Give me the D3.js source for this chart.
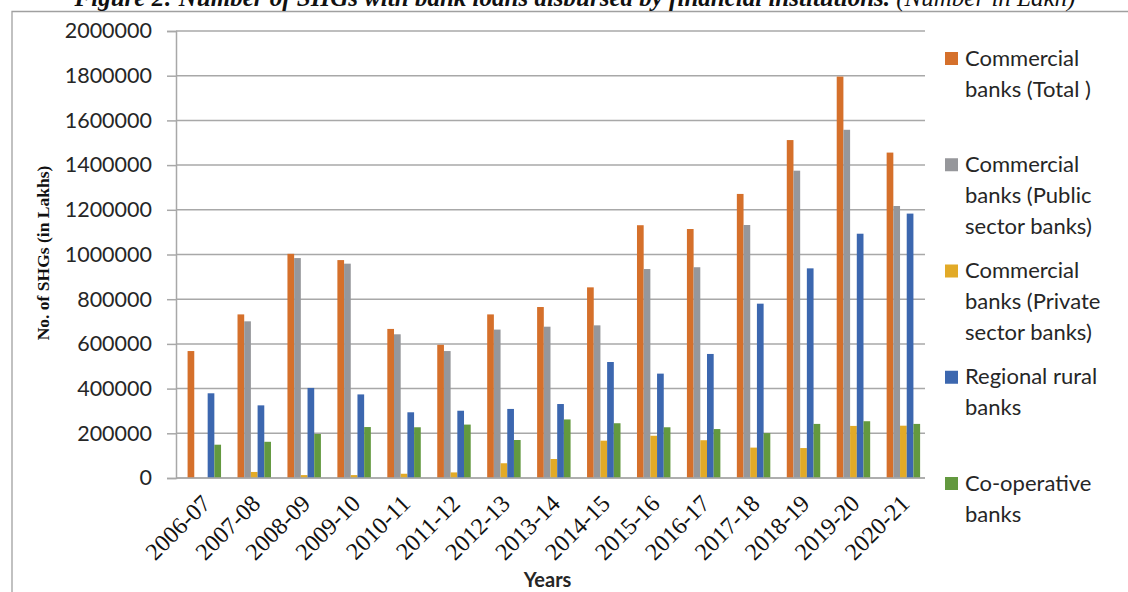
<!DOCTYPE html>
<html>
<head>
<meta charset="utf-8">
<script src="https://cdn.jsdelivr.net/npm/d3@7"></script>
<style>
  html, body { margin: 0; padding: 0; background: #fff; }
  svg { display: block; }
</style>
</head>
<body>
<svg id="chart" width="1128" height="592"></svg>
<script>
// ---- Data ----
const years = ["2006-07","2007-08","2008-09","2009-10","2010-11","2011-12","2012-13","2013-14","2014-15","2015-16","2016-17","2017-18","2018-19","2019-20","2020-21"];
const commercialTotal   = [568000, 732000, 1003000, 975000, 667000, 596000, 732000, 765000, 853000, 1131000, 1114000, 1271000, 1512000, 1796000, 1456000];
const commercialPublic  = [0, 701000, 984000, 959000, 643000, 568000, 664000, 677000, 683000, 935000, 943000, 1132000, 1375000, 1558000, 1217000];
const commercialPrivate = [0, 27000, 13000, 13000, 19000, 25000, 66000, 85000, 167000, 189000, 169000, 136000, 134000, 233000, 234000];
const regionalRural     = [379000, 325000, 403000, 374000, 294000, 301000, 309000, 331000, 519000, 467000, 555000, 780000, 938000, 1093000, 1183000];
const cooperative       = [149000, 162000, 197000, 228000, 227000, 239000, 170000, 262000, 245000, 227000, 219000, 201000, 242000, 254000, 242000];
const seriesNames = ["Commercial banks (Total )", "Commercial banks (Public sector banks)", "Commercial banks (Private sector banks)", "Regional rural banks", "Co-operative banks"];
const legendLines = [["Commercial","banks (Total )"],["Commercial","banks (Public","sector banks)"],["Commercial","banks (Private","sector banks)"],["Regional rural","banks"],["Co-operative","banks"]];
const yTicks = [0, 200000, 400000, 600000, 800000, 1000000, 1200000, 1400000, 1600000, 1800000, 2000000];
const colors = ["#D5702B", "#96979B", "#E2AA27", "#3C67AF", "#63993F"];
const titleMain = "Figure 2: Number of SHGs with bank loans disbursed by financial institutions.";
const titleUnit = " (Number in Lakh)";

const seriesValues = [commercialTotal, commercialPublic, commercialPrivate, regionalRural, cooperative];

// ---- Layout ----
const svg = d3.select("#chart");
const plot = { left: 176, right: 925, top: 31, bottom: 478 };

// frame
svg.append("path")
  .attr("d", `M12,${592} L12,11.5 L1128,11.5`)
  .attr("fill", "none").attr("stroke", "#a0a0a0").attr("stroke-width", 1.3);

// title (cut off at top, as in the source figure)
const title = svg.append("text")
  .attr("x", 575).attr("y", 6)
  .attr("text-anchor", "middle")
  .attr("font-family", "Liberation Serif, Times New Roman, serif")
  .attr("font-style", "italic")
  .attr("font-weight", "bold")
  .attr("font-size", 25)
  .attr("fill", "#111");
title.append("tspan").text(titleMain);
title.append("tspan").attr("font-weight", "normal").text(titleUnit);

const x = d3.scaleBand().domain(years).range([plot.left, plot.right]).paddingInner(0).paddingOuter(0);
// six slots per group: leading empty slot then the five series
const slots = ["_", ...seriesNames];
const xs = d3.scaleBand().domain(slots).range([0, x.bandwidth()]).paddingInner(0).paddingOuter(0.73);
const y = d3.scaleLinear().domain([0, 2000000]).range([plot.bottom, plot.top]);

// gridlines
svg.append("g").selectAll("line").data(yTicks).join("line")
  .attr("x1", plot.left).attr("x2", plot.right)
  .attr("y1", d => y(d)).attr("y2", d => y(d))
  .attr("stroke", "#a8a8a8").attr("stroke-width", 1.5);

// y axis
const yAxis = d3.axisLeft(y).tickValues(yTicks).tickSize(9).tickPadding(15).tickFormat(d3.format("d"));
const gy = svg.append("g").attr("transform", `translate(${plot.left},0)`).call(yAxis);
gy.select(".domain").attr("stroke", "#a8a8a8").attr("stroke-width", 1.5);
gy.selectAll(".tick line").attr("stroke", "#a8a8a8").attr("stroke-width", 1.5);
gy.selectAll(".tick text")
  .attr("font-family", "Lato, Open Sans, sans-serif")
  .attr("font-size", 21.5)
  .attr("fill", "#262626");

// bars
const groups = svg.append("g").selectAll("g").data(years).join("g")
  .attr("transform", d => `translate(${x(d)},0)`);
groups.selectAll("rect")
  .data((d, i) => seriesNames.map((s, k) => ({ s, k, v: seriesValues[k][i] })))
  .join("rect")
  .attr("x", d => xs(d.s))
  .attr("width", xs.bandwidth())
  .attr("y", d => y(d.v))
  .attr("height", d => y(0) - y(d.v))
  .attr("fill", d => colors[d.k]);

// x axis line
svg.append("line")
  .attr("x1", plot.left).attr("x2", plot.right)
  .attr("y1", y(0)).attr("y2", y(0))
  .attr("stroke", "#a8a8a8").attr("stroke-width", 1.5);

// x labels
svg.append("g").selectAll("text").data(years).join("text")
  .attr("transform", d => `translate(${x(d) + x.bandwidth() / 2 + 5},${plot.bottom + 21}) rotate(-45)`)
  .attr("text-anchor", "end")
  .attr("dy", "0.35em")
  .attr("font-family", "Liberation Serif, Times New Roman, serif")
  .attr("font-size", 24)
  .attr("fill", "#111")
  .text(d => d);

// axis titles
svg.append("text")
  .attr("x", (plot.left + plot.right) / 2 - 3).attr("y", 587)
  .attr("text-anchor", "middle")
  .attr("font-family", "Lato, sans-serif")
  .attr("font-weight", "bold")
  .attr("font-size", 20)
  .attr("fill", "#262626")
  .text("Years");

svg.append("text")
  .attr("transform", `translate(49,253) rotate(-90)`)
  .attr("text-anchor", "middle")
  .attr("font-family", "Liberation Serif, Times New Roman, serif")
  .attr("font-weight", "bold")
  .attr("font-size", 17.5)
  .attr("fill", "#111")
  .text("No. of SHGs (in Lakhs)");

// legend
const ly = d3.scaleLinear().domain([0, 4]).range([58, 483]);
const leg = svg.append("g").selectAll("g").data(seriesNames).join("g")
  .attr("transform", (d, i) => `translate(945,${ly(i)})`);
leg.append("rect")
  .attr("x", 0).attr("y", -6).attr("width", 13).attr("height", 13)
  .attr("fill", (d, i) => colors[i]);
leg.append("text")
  .attr("font-family", "Lato, Open Sans, sans-serif")
  .attr("font-size", 22)
  .attr("fill", "#262626")
  .selectAll("tspan").data((d, i) => legendLines[i]).join("tspan")
  .attr("x", 20)
  .attr("y", (d, j) => j * 31)
  .attr("dy", "0.35em")
  .text(d => d);
</script>
</body>
</html>
